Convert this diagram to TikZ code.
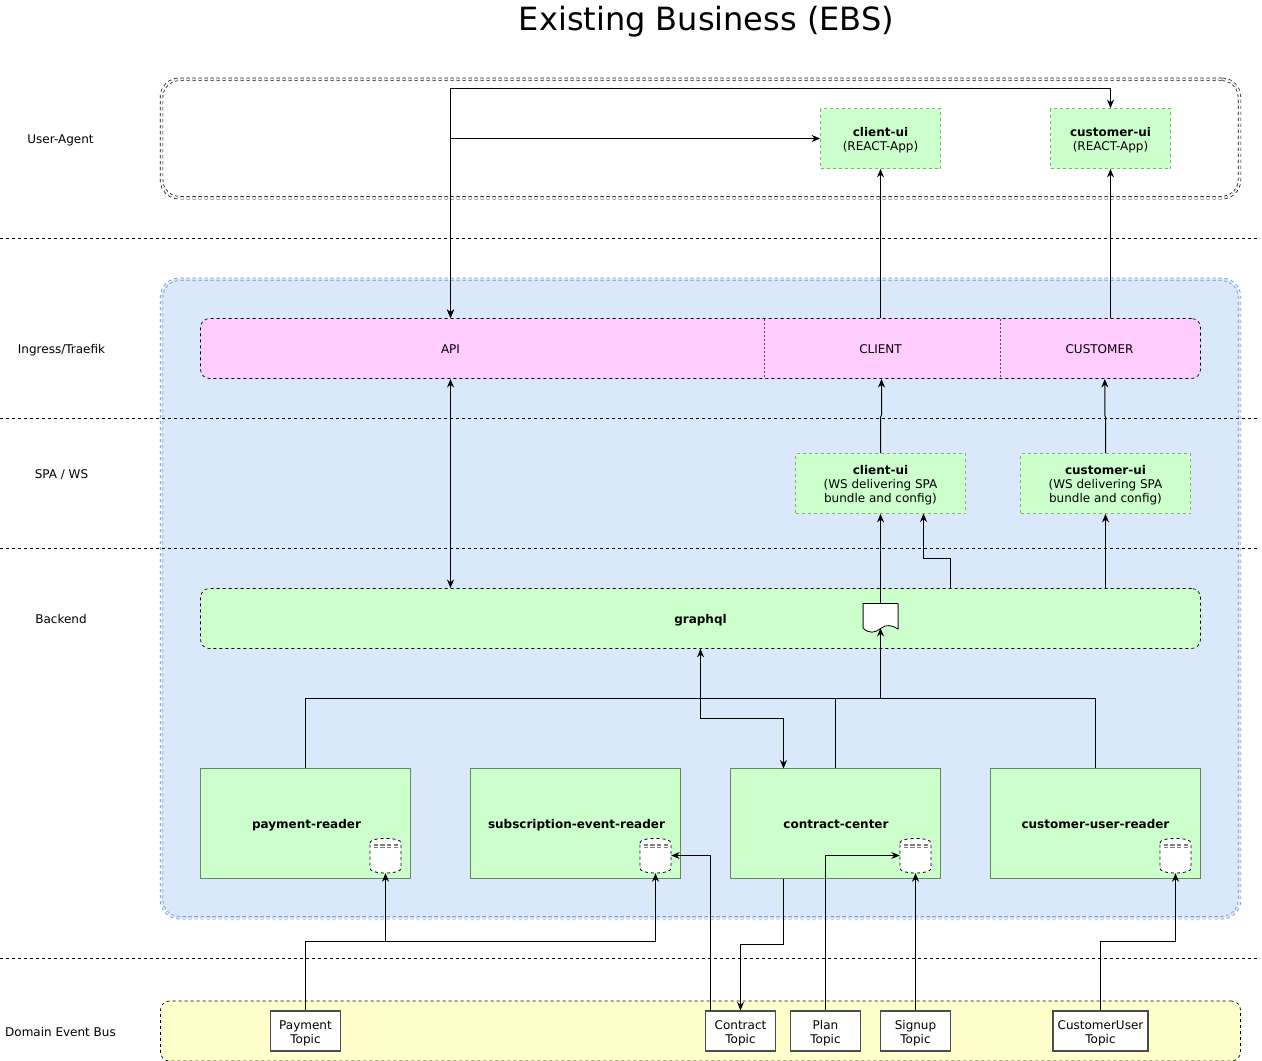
\documentclass[tikz,border=0pt]{standalone}
\usepackage{fontspec}
\setmainfont{DejaVu Sans}
\usetikzlibrary{arrows.meta}
\definecolor{regionblue}{HTML}{DAE8FC}
\definecolor{regionline}{HTML}{6C8EBF}
\definecolor{ingresspink}{HTML}{FFCCFF}
\definecolor{svcgreen}{HTML}{CCFFCC}
\definecolor{svcline}{HTML}{82B366}
\definecolor{readerline}{HTML}{668A58}
\definecolor{busyellow}{HTML}{FFFFCC}
\tikzset{
  label12/.style={font=\fontsize{12}{14}\selectfont, align=center, inner sep=0pt, yshift=-2.4pt, execute at begin node=\strut, execute at end node=\strut},
  region/.style={draw, dashed, rounded corners=18pt, double, double distance=2pt, line width=0.7pt, inner sep=0pt, minimum width=1078pt},
  uibox/.style={draw=svcline, fill=svcgreen, dashed, line width=0.8pt, inner sep=0pt},
  readerbox/.style={draw=readerline, fill=svcgreen, line width=0.9pt, inner sep=0pt, minimum width=210pt, minimum height=110pt},
  barbox/.style={draw, dashed, rounded corners=9pt, line width=0.7pt, inner sep=0pt, minimum width=1000pt, minimum height=60pt},
  topicbox/.style={draw=black!70, fill=white, line width=1.1pt, inner sep=0pt, minimum height=40pt},
  dbnode/.style={inner sep=0pt, minimum width=31pt, minimum height=35pt},
  conn/.style={-{Stealth[length=8.5pt,width=7pt]}, line width=1pt},
  biconn/.style={{Stealth[length=8.5pt,width=7pt]}-{Stealth[length=8.5pt,width=7pt]}, line width=1pt}
}
\begin{document}
\begin{tikzpicture}[x=1pt, y=-1pt, line join=miter]
\useasboundingbox (0,0) rectangle (1262,1061);
\node[font=\fontsize{32}{36}\selectfont, inner sep=0pt] (title) at (706.5,22) {Existing Business (EBS)};
\node[label12] (lagent) at (60.5,138.5) {User-Agent};
\node[label12] (lingress) at (61.5,348.5) {Ingress/Traefik};
\node[label12] (lspa) at (61.5,473.5) {SPA / WS};
\node[label12] (lbackend) at (61,618.5) {Backend};
\node[label12] (lbus) at (60.5,1031) {Domain Event Bus};
% regions
\node[region, minimum height=118.5pt] (agent) at (700.5,138.5) {};
\node[region, draw=regionline, fill=regionblue, double=regionblue, minimum height=638.5pt] (cluster) at (700.5,598.5) {};
\node[draw, dashed, fill=busyellow, rounded corners=9pt, line width=0.7pt, inner sep=0pt, minimum width=1080pt, minimum height=60pt] (bus) at (700.5,1031) {};
% layers
\foreach \y in {238.5,418.5,548.5,958.5}
  \draw[dashed, line width=0.8pt] (0,\y) -- (1258,\y);
% ingress
\node[barbox, fill=ingresspink] (ingress) at (700.5,348.5) {};
\foreach \x in {764,1000}
  \draw[black!70, line width=0.9pt, dash pattern=on 2pt off 2pt] (\x,318.5) -- (\x,378.5);
\node[label12] (api) at (450.5,348.5) {API};
\node[label12] (client) at (880.5,348.5) {CLIENT};
\node[label12] (customer) at (1099.5,348.5) {CUSTOMER};
% user agent
\node[uibox, minimum width=120pt, minimum height=60pt] (clientui) at (880.5,138.5) {};
\node[label12] (clientuitext) at (880.5,138.5) {\textbf{client-ui}\\(REACT-App)};
\node[uibox, minimum width=120pt, minimum height=60pt] (customerui) at (1110.5,138.5) {};
\node[label12] (customeruitext) at (1110.5,138.5) {\textbf{customer-ui}\\(REACT-App)};
% spa
\node[uibox, minimum width=170pt, minimum height=60pt] (clientws) at (880.5,483.5) {};
\node[label12] (clientwstext) at (880.5,483.5) {\textbf{client-ui}\\(WS delivering SPA\\bundle and config)};
\node[uibox, minimum width=170pt, minimum height=60pt] (customerws) at (1105.5,483.5) {};
\node[label12] (customerwstext) at (1105.5,483.5) {\textbf{customer-ui}\\(WS delivering SPA\\bundle and config)};
% backend
\node[barbox, fill=svcgreen] (graphql) at (700.5,618.5) {};
\node[label12] (graphqltext) at (700.5,618.5) {\textbf{graphql}};
\node[inner sep=0pt, minimum width=35pt, minimum height=30pt] (doc) at (880.5,618) {};
\draw[fill=white, line width=0.8pt] (863,603.5) -- (898,603.5) -- (898,629)
  .. controls (892,625) and (886,624) .. (880.5,628.5)
  .. controls (875,633) and (869,634) .. (863,628) -- cycle;
\draw[black!60, line width=1pt] (898,603.5) -- (898,629);
\draw[black!60, line width=1pt] (863,603.5) -- (863,628);
\node[readerbox] (payment) at (305.5,823.5) {};
\node[label12] (paymenttext) at (306.5,823.5) {\textbf{payment-reader}};
\node[readerbox] (subscription) at (575.5,823.5) {};
\node[label12] (subscriptiontext) at (576.5,823.5) {\textbf{subscription-event-reader}};
\node[readerbox] (contract) at (835.5,823.5) {};
\node[label12] (contracttext) at (836,823.5) {\textbf{contract-center}};
\node[readerbox] (customerreader) at (1095.5,823.5) {};
\node[label12] (customerreadertext) at (1095.5,823.5) {\textbf{customer-user-reader}};
% databases
\foreach \dbname/\x in {dbpayment/385.5,dbsubscription/655.5,dbcontract/915.5,dbcustomer/1175.5} {
  \node[dbnode] (\dbname) at (\x,855.5) {};
  \draw[dashed, fill=white, line width=0.8pt] (\x-15.5,843)
    .. controls (\x-15.5,840) and (\x-9,838.5) .. (\x,838.5)
    .. controls (\x+9,838.5) and (\x+15.5,840) .. (\x+15.5,843)
    -- (\x+15.5,868.5)
    .. controls (\x+15.5,871) and (\x+9,873) .. (\x,873)
    .. controls (\x-9,873) and (\x-15.5,871) .. (\x-15.5,868.5) -- cycle;
  \foreach \r in {844,845.7,847.4}
    \draw[black!50, line width=0.7pt, dash pattern=on 4.5pt off 2.2pt] (\x-12,\r) -- (\x+13,\r);
}
% topics
\node[topicbox, minimum width=70pt] (paymenttopic) at (305.5,1031) {};
\node[label12] (paymenttopictext) at (305.5,1031.5) {Payment\\Topic};
\node[topicbox, minimum width=70pt] (contracttopic) at (740.5,1031) {};
\node[label12] (contracttopictext) at (740.5,1031.5) {Contract\\Topic};
\node[topicbox, minimum width=70pt] (plantopic) at (825.5,1031) {};
\node[label12] (plantopictext) at (825.5,1031.5) {Plan\\Topic};
\node[topicbox, minimum width=70pt] (signuptopic) at (915.5,1031) {};
\node[label12] (signuptopictext) at (915.5,1031.5) {Signup\\Topic};
\node[topicbox, minimum width=95pt] (usertopic) at (1100.5,1031) {};
\node[label12] (usertopictext) at (1100.5,1031.5) {CustomerUser\\Topic};
% connectors
\coordinate (apitop) at (450.5,318);
\coordinate (apibottom) at (450.5,379);
\draw[biconn] (apitop) |- (clientui.west);
\draw[biconn] (apitop) -- (450.5,88.5) -| (customerui.north);
\draw[biconn] (apibottom) -- (450.5,588);
\draw[conn] (ingress.north -| clientui) -- (clientui.south);
\draw[conn] (ingress.north -| customerui) -- (customerui.south);
\draw[conn] (clientws.north) -- ++(0,-36) -- ++(1,-2) -- (881.5,379);
\draw[conn] (customerws.north) -- ++(0,-36) -- ++(-0.7,-2) -- (1104.8,379);
\draw[conn] (880.5,603.5) -- (clientws.south);
\draw[conn] (950.5,588) -- (950.5,558.5) -| (923.5,513.5);
\draw[conn] (graphql.north -| customerws) -- (customerws.south);
\draw[line width=1pt] (payment.north) |- (1095.5,698.5) -- (customerreader.north);
\draw[line width=1pt] (contract.north) -- (835.5,698.5);
\draw[conn] (880.5,698.5) -- (880.5,628);
\draw[biconn] (graphql.south) |- (783.5,718.5) -- (783.5,768.5);
\draw[conn] (paymenttopic.north) |- (385.5,941.5) -- (dbpayment.south);
\draw[conn] (385.5,941.5) -| (dbsubscription.south);
\draw[conn] (710.5,1011) |- (dbsubscription.east);
\draw[conn] (783.5,878.5) |- (740.5,944.5) -- (contracttopic.north);
\draw[conn] (plantopic.north) |- (dbcontract.west);
\draw[conn] (signuptopic.north) -- (dbcontract.south);
\draw[conn] (usertopic.north) |- (1175.5,941.5) -- (dbcustomer.south);
\end{tikzpicture}
\end{document}
